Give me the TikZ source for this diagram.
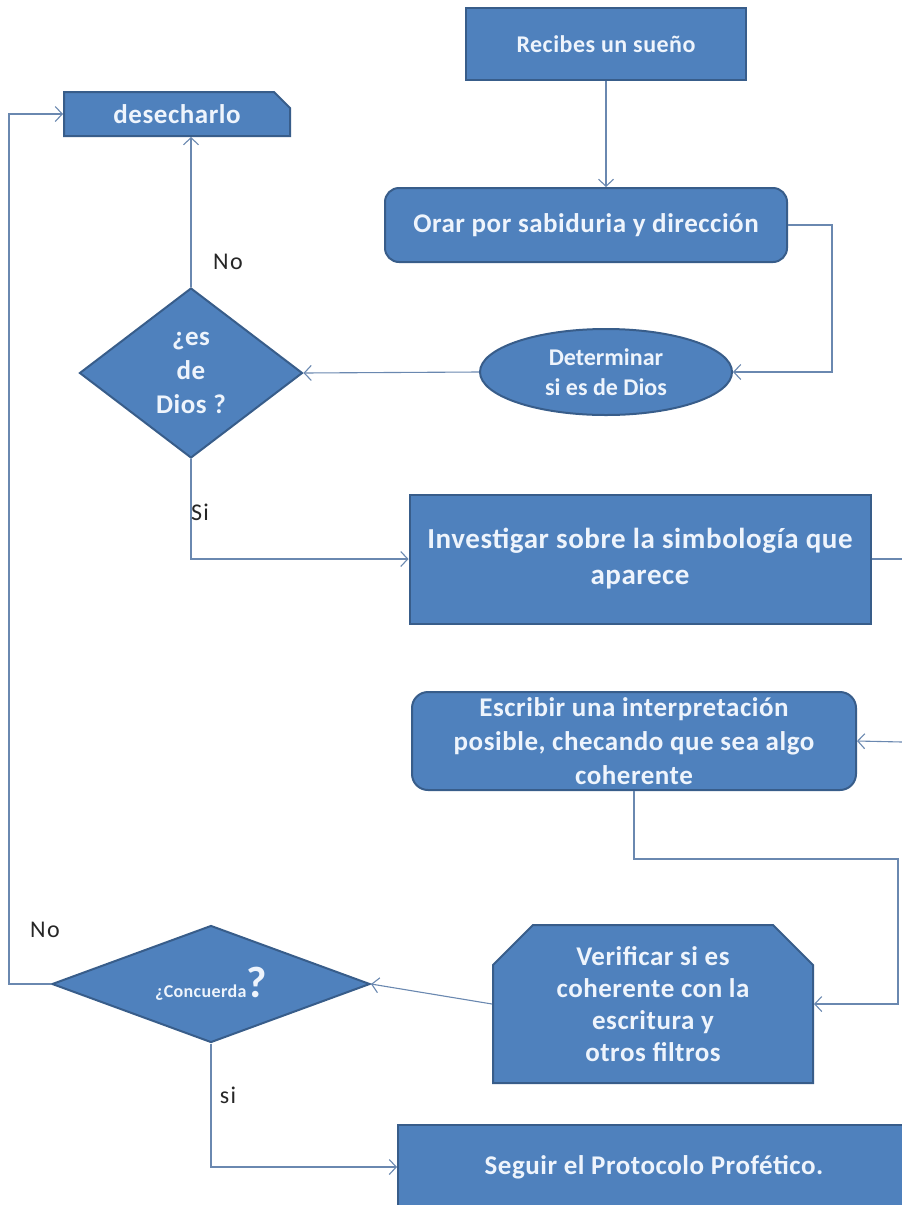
\documentclass[tikz,border=0pt]{standalone}
\usepackage{fontspec}
\setmainfont{Carlito}
\newfontfamily\bx[LetterSpace=2]{Carlito}
\newfontfamily\lb[LetterSpace=6]{Carlito}
\usetikzlibrary{shapes.geometric,shapes.misc,arrows.meta}
\definecolor{boxfill}{HTML}{4F81BD}
\definecolor{boxdraw}{HTML}{385D8A}
\definecolor{linec}{HTML}{6A88B0}
\definecolor{txt}{HTML}{EEF4FC}
\begin{document}
\begin{tikzpicture}[x=1pt,y=-1pt,
  box/.style={draw=boxdraw, fill=boxfill, line width=2pt, text=txt,
    font=\bx\bfseries\fontsize{27}{34}\selectfont, align=center, inner sep=0pt},
  conn/.style={draw=linec, line width=1.1pt},
  arr/.style={conn, -{Straight Barb[length=7pt,width=15pt]}},
  lbl/.style={font=\lb\fontsize{24}{28}\selectfont, text=black!85}]
\useasboundingbox (0,0) rectangle (902,1205);
\fill[white] (0,0) rectangle (902,1205);

\node[box, minimum width=280pt, minimum height=72pt, font=\bx\bfseries\fontsize{24}{28}\selectfont] (recibes) at (606,44) {Recibes un sueño};
\node[box, rounded corners=14pt, minimum width=402pt, minimum height=74pt] (orar) at (586,225) {Orar por sabiduria y dirección};
\node[box, ellipse, minimum width=252pt, minimum height=86pt, font=\bfseries\fontsize{24}{30}\selectfont] (det) at (606,372) {Determinar\\si es de Dios};
\node[box, diamond, aspect=1.3, minimum width=223pt, minimum height=170pt] (dios) at (191,373) {¿es\\de\\Dios ?};
\node[box, chamfered rectangle, chamfered rectangle corners=north east, chamfered rectangle xsep=8pt, chamfered rectangle ysep=8pt, minimum width=226pt, minimum height=44pt] (des) at (177,114) {desecharlo};
\node[box, minimum width=461pt, minimum height=129pt, font=\bx\bfseries\fontsize{29}{36}\selectfont] (inv) at (640,559) {Investigar sobre la simbología que\\aparece};
\node[box, rounded corners=16pt, minimum width=444pt, minimum height=98pt] (esc) at (634,741) {Escribir una interpretación\\posible, checando que sea algo\\coherente};
\node[box, chamfered rectangle, chamfered rectangle corners={north west,north east}, chamfered rectangle xsep=20pt, chamfered rectangle ysep=20pt, minimum width=320pt, minimum height=158pt, font=\bx\bfseries\fontsize{27}{32}\selectfont] (ver) at (653,1004) {Verificar si es\\coherente con la\\escritura y\\otros filtros};
\node[box, diamond, aspect=2.7, minimum width=318pt, minimum height=117pt] (conc) at (211,984) {{\fontsize{18}{18}\selectfont ¿Concuerda}{\fontsize{44}{44}\selectfont ?}};
\node[box, minimum width=512pt, minimum height=85pt] (seg) at (654,1167) {Seguir el Protocolo Profético.};

\coordinate (invout) at (902,559);
\coordinate (escin) at (902,742);
\coordinate (r1) at (898,859);
\coordinate (l1) at (9,984);

\draw[arr] (recibes.south) -- (recibes.south |- orar.north);
\draw[arr] (orar.east) -- ++(44,0) |- (det.east);
\draw[arr] (det.west) -- (dios.east);
\draw[arr] (dios.north) -- (dios.north |- des.south);
\draw[arr] (dios.south) |- (inv.west);
\draw[conn] (inv.east) -- (invout);
\draw[arr] (escin) -- (esc.east);
\draw[arr] (esc.south) |- (r1) |- (ver.east);
\draw[arr] (ver.west) -- (conc.east);
\draw[arr] (conc.west) -- (l1) |- (des.west);
\draw[arr] (conc.south) |- (seg.west);

\node[lbl] (no1) at (228,262) {No};
\node[lbl] (si1) at (200,512) {Si};
\node[lbl] (no2) at (45,930) {No};
\node[lbl] (si2) at (228,1095) {si};
\end{tikzpicture}
\end{document}
